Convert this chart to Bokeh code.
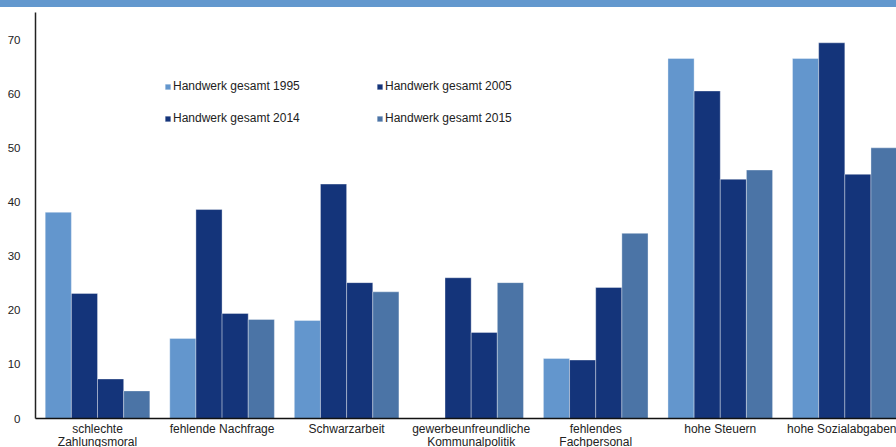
import numpy as np
from bokeh.plotting import figure
from bokeh.models import ColumnDataSource, Range1d, FixedTicker, Legend, LegendItem, Div
from bokeh.layouts import column
from bokeh.transform import dodge
from bokeh.embed import file_html
from bokeh.resources import INLINE

# Reasons named by craft businesses (share in %)
categories = [
    "schlechte\nZahlungsmoral",
    "fehlende Nachfrage",
    "Schwarzarbeit",
    "gewerbeunfreundliche\nKommunalpolitik",
    "fehlendes\nFachpersonal",
    "hohe Steuern",
    "hohe Sozialabgaben",
]
series_names = [
    "Handwerk gesamt 1995",
    "Handwerk gesamt 2005",
    "Handwerk gesamt 2014",
    "Handwerk gesamt 2015",
]
v1995 = [38.1, 14.8, 18.1, np.nan, 11.1, 66.5, 66.5]
v2005 = [23.1, 38.6, 43.3, 26.0, 10.8, 60.5, 69.4]
v2014 = [7.3, 19.4, 25.1, 15.9, 24.2, 44.2, 45.1]
v2015 = [5.1, 18.3, 23.4, 25.1, 34.2, 45.9, 50.0]
y_ticks = [0, 10, 20, 30, 40, 50, 60, 70]

colors = ["#6396CD", "#14347A", "#14347A", "#4B74A6"]
BAND = "#6398CE"
FONT = "Liberation Sans"

positions = list(range(len(categories)))
source = ColumnDataSource(dict(
    x=positions, y1995=v1995, y2005=v2005, y2014=v2014, y2015=v2015,
))

# thin blue header strip across the page
header = Div(
    text="", width=896, height=7, margin=0,
    styles={"background-color": BAND, "height": "7px", "min-height": "7px",
            "overflow": "hidden", "line-height": "0px", "padding": "0px"},
)

p = figure(
    title=None, frame_width=861, frame_height=406,
    x_range=Range1d(-0.498, 6.415), y_range=Range1d(0, 75),
    output_backend="svg", toolbar_location=None,
    min_border_left=35, min_border_right=0, min_border_top=5, min_border_bottom=0,
)
p.outline_line_color = None
p.xgrid.visible = False
p.ygrid.visible = False
p.background_fill_color = "white"
p.border_fill_color = "white"

bar_w = 0.21
offsets = [-0.315, -0.105, 0.105, 0.315]
columns = ["y1995", "y2005", "y2014", "y2015"]
renderers = []
for col, off, c in zip(columns, offsets, colors):
    r = p.vbar(
        x=dodge("x", off, range=p.x_range), top=col, width=bar_w, bottom=0,
        source=source, fill_color=c, line_color="white", line_alpha=0.35, line_width=1,
    )
    renderers.append(r)

# x axis: category names under each group
p.xaxis.ticker = FixedTicker(ticks=positions)
p.xaxis.major_label_overrides = {i: lab for i, lab in enumerate(categories)}
p.xaxis.major_tick_line_color = None
p.xaxis.minor_tick_line_color = None
p.xaxis.axis_line_color = "#111111"
p.xaxis.axis_line_width = 1.5
p.xaxis.major_label_standoff = -3
p.xaxis.major_label_text_font = FONT
p.xaxis.major_label_text_font_size = "12px"
p.xaxis.major_label_text_color = "#222222"
p.xaxis.major_label_text_line_height = 0.98

# y axis
p.yaxis.ticker = FixedTicker(ticks=y_ticks)
p.yaxis.major_tick_line_color = None
p.yaxis.minor_tick_line_color = None
p.yaxis.axis_line_color = "#222222"
p.yaxis.axis_line_width = 1.5
p.yaxis.major_label_standoff = 9
p.yaxis.major_label_text_font = FONT
p.yaxis.major_label_text_font_size = "11.5px"
p.yaxis.major_label_text_color = "#222222"

legend = Legend(
    items=[LegendItem(label=n, renderers=[r]) for n, r in zip(series_names, renderers)],
    location=(129, 293), orientation="horizontal", ncols=2,
    glyph_width=7, glyph_height=7, label_standoff=2, label_width=185, label_height=14,
    spacing=18, padding=0, margin=0,
    background_fill_alpha=0, border_line_color=None,
    label_text_font=FONT, label_text_font_size="12px", label_text_color="#222222",
)
p.add_layout(legend, "center")

layout = column(header, p, spacing=0)

open("out.html", "w").write(file_html(layout, INLINE))
